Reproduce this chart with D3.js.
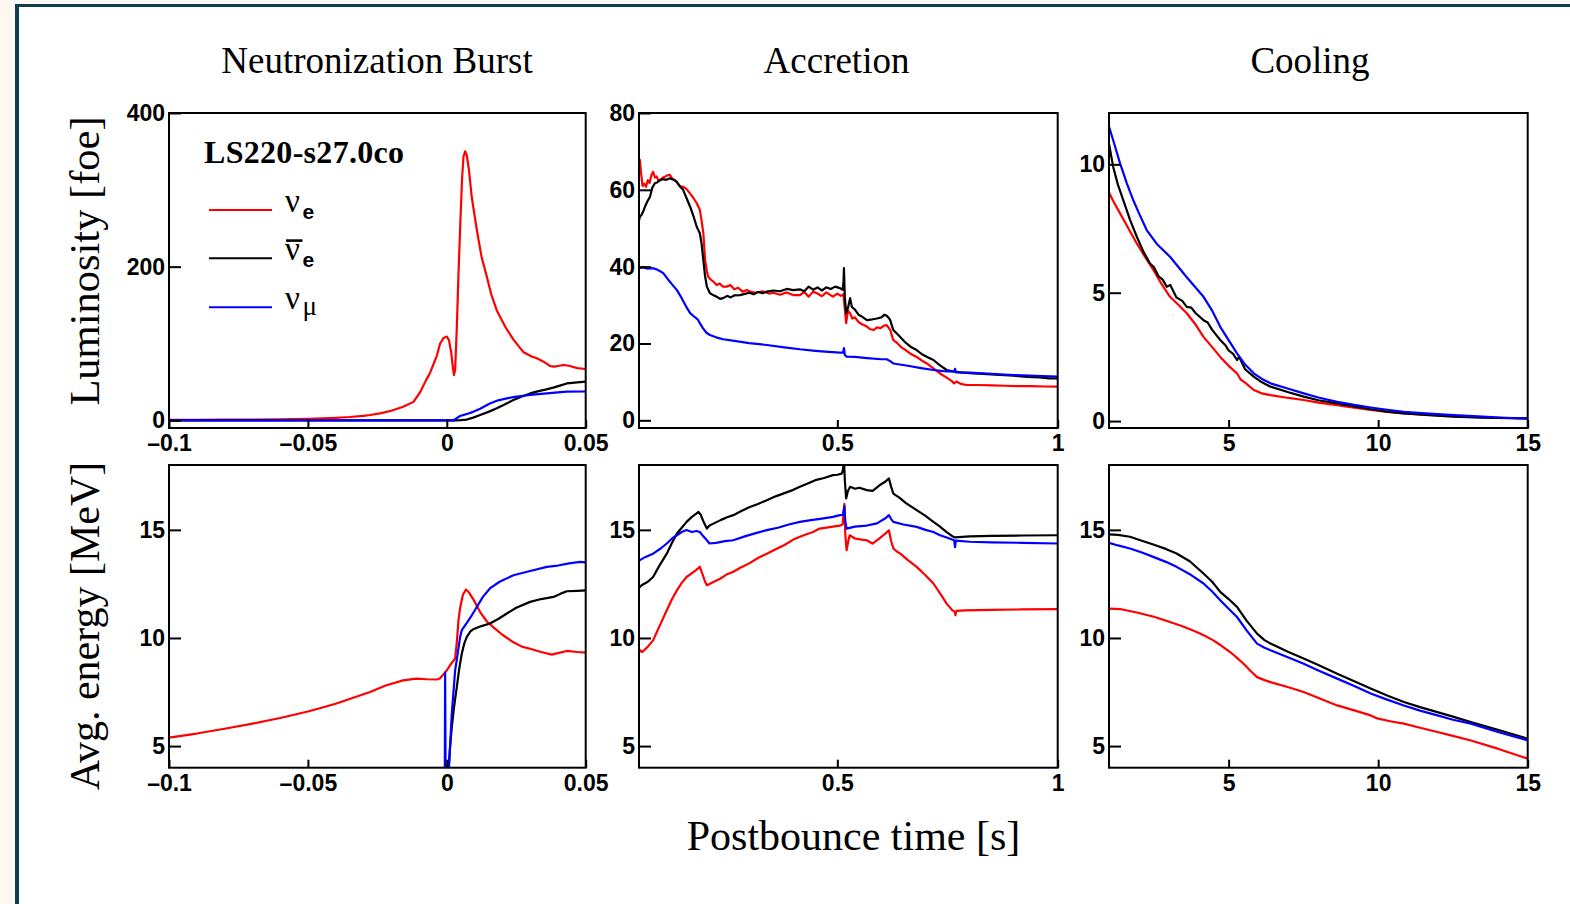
<!DOCTYPE html>
<html>
<head>
<meta charset="utf-8">
<script src="https://cdn.jsdelivr.net/npm/d3@7"></script>
<style>
body { margin: 0; background: #fdf9f2; }
svg { display: block; }
</style>
</head>
<body>
<div class="chart"></div>
<script>
// phase titles and tick values / labels
var phases = ["Neutronization Burst", "Accretion", "Cooling"];
var xTicksBurst = [-0.1, -0.05, 0, 0.05];
var xLabelsBurst = ["\u20130.1", "\u20130.05", "0", "0.05"];
var xTicksAccr = [0.5, 1];
var xLabelsAccr = ["0.5", "1"];
var xTicksCool = [5, 10, 15];
var xLabelsCool = ["5", "10", "15"];
var yTicksLumBurst = [0, 200, 400];
var yTicksLumAccr = [0, 20, 40, 60, 80];
var yTicksLumCool = [0, 5, 10];
var yTicksEnergy = [5, 10, 15];

// luminosity [foe] vs time [s]
var lumBurstNuE = [[-0.1,0.5],[-0.09,0.6],[-0.08,0.8],[-0.07,1.0],[-0.06,1.4],[-0.05,2.0],[-0.045,2.6],[-0.04,3.3],[-0.035,4.3],[-0.03,5.8],[-0.0276,6.9],[-0.024,9],[-0.02,12.5],[-0.0157,17.7],[-0.012,24],[-0.0097,36],[-0.0075,52],[-0.006,62],[-0.0049,72],[-0.0036,84],[-0.0024,100],[-0.0012,107],[0,109],[0.0008,104],[0.0016,88],[0.0022,68],[0.0026,59],[0.003,66],[0.0036,120],[0.0042,190],[0.0048,250],[0.0055,315],[0.006,343],[0.0066,350],[0.0072,345],[0.008,325],[0.009,290],[0.0108,248],[0.0125,213],[0.0144,187],[0.016,164],[0.018,143],[0.021,122],[0.024,105],[0.0275,89],[0.0305,83],[0.0324,80.7],[0.035,76],[0.0372,70.5],[0.039,70],[0.042,72],[0.044,71],[0.047,68],[0.05,66.8]];
var lumBurstAntiNuE = [[-0.1,0],[0.003,0],[0.005,0.2],[0.0072,1],[0.0095,3.5],[0.012,7],[0.015,11],[0.018,15.6],[0.021,21],[0.024,26.4],[0.027,31],[0.03,35],[0.033,38],[0.0355,40],[0.0383,42.5],[0.041,45.5],[0.0432,48],[0.046,49],[0.05,50.3]];
var lumBurstNuMu = [[-0.1,0],[0.0025,0],[0.003,1.5],[0.0048,5.6],[0.007,8],[0.0095,11],[0.012,15],[0.0155,22],[0.0185,26],[0.0216,28.6],[0.0245,30.5],[0.0275,32],[0.031,33.5],[0.036,35],[0.04,36.3],[0.0432,37.3],[0.05,37.5]];

var lumAccrNuE = [[0.05,66],[0.052,67.8],[0.055,64],[0.058,61],[0.062,61.6],[0.066,60.8],[0.07,62.5],[0.074,61.8],[0.078,63.8],[0.082,64.7],[0.086,63.2],[0.09,63.5],[0.094,62.4],[0.098,62.6],[0.104,63.2],[0.11,63.5],[0.115,63.8],[0.12,63.9],[0.125,63.0],[0.13,62.6],[0.135,62.2],[0.14,61.3],[0.145,60.9],[0.15,60.8],[0.158,60.2],[0.166,59],[0.174,57.8],[0.181,56.5],[0.188,54.8],[0.192,52],[0.196,48.7],[0.2,41.7],[0.204,38.8],[0.207,37.4],[0.213,36.6],[0.219,36.1],[0.226,35.2],[0.233,35.6],[0.241,34.8],[0.249,34.8],[0.258,35.2],[0.266,34.1],[0.275,34.5],[0.285,33.5],[0.295,33.9],[0.302,33.5],[0.315,33.2],[0.33,33.6],[0.345,33.0],[0.355,33.2],[0.37,32.7],[0.385,33.3],[0.4,32.6],[0.415,32.6],[0.425,33.4],[0.435,32.2],[0.445,33.5],[0.455,33.0],[0.465,32.3],[0.475,33.3],[0.49,32.2],[0.5,33.0],[0.508,32.4],[0.514,32.8],[0.517,29],[0.52,25.3],[0.524,28.5],[0.529,27.9],[0.534,26.5],[0.54,26.8],[0.548,25.6],[0.556,25.0],[0.567,24.4],[0.575,23.7],[0.582,23.5],[0.59,24.2],[0.598,24.0],[0.605,24.6],[0.612,24.8],[0.617,24.0],[0.62,23.5],[0.624,22.0],[0.627,20.9],[0.635,20.2],[0.645,19.0],[0.655,18.3],[0.665,17.4],[0.68,16.5],[0.69,15.7],[0.703,14.8],[0.718,13.5],[0.733,12.2],[0.748,11.1],[0.76,10.2],[0.765,9.6],[0.77,10.1],[0.78,9.5],[0.793,9.2],[0.82,9.2],[0.85,9.1],[0.88,9.0],[0.91,8.9],[0.94,8.9],[0.97,8.8],[1.0,8.75]];
var lumAccrAntiNuE = [[0.05,52],[0.052,53],[0.056,53.5],[0.06,54.5],[0.065,56],[0.07,57.2],[0.075,58.2],[0.08,60.5],[0.086,61.7],[0.092,62.0],[0.098,62.5],[0.105,62.8],[0.112,62.6],[0.12,63],[0.126,62.7],[0.13,62.6],[0.136,62.0],[0.142,61.0],[0.15,60],[0.158,57.8],[0.166,55.6],[0.174,53],[0.181,50.4],[0.188,48.7],[0.192,46],[0.196,41.7],[0.2,37.5],[0.204,34.8],[0.211,33.1],[0.218,32.6],[0.226,32.2],[0.234,31.6],[0.241,31.8],[0.25,32.4],[0.258,32.0],[0.266,32.5],[0.279,32.6],[0.29,32.9],[0.3,33.2],[0.31,32.8],[0.32,33.4],[0.33,33.1],[0.34,33.5],[0.355,33.8],[0.37,33.6],[0.385,34.2],[0.4,33.9],[0.415,34.1],[0.425,33.6],[0.435,34.8],[0.445,34.0],[0.455,34.6],[0.465,33.8],[0.475,34.6],[0.485,34.2],[0.495,34.8],[0.506,34.4],[0.512,34.0],[0.514,36],[0.515,39.6],[0.517,32],[0.52,27.9],[0.524,29.2],[0.529,31.8],[0.533,29.5],[0.54,28.8],[0.548,27.5],[0.556,27.0],[0.567,26.1],[0.58,26.3],[0.59,26.5],[0.6,26.8],[0.607,27.5],[0.612,27.2],[0.617,26.6],[0.62,26.1],[0.624,24.6],[0.627,23.5],[0.64,22.0],[0.655,20.2],[0.668,19.0],[0.68,18.3],[0.692,17.2],[0.705,16.4],[0.718,15.7],[0.733,14.3],[0.748,13.1],[0.765,12.7],[0.78,12.5],[0.8,12.3],[0.83,12.1],[0.869,11.8],[0.9,11.6],[0.93,11.3],[0.96,11.2],[0.98,10.9],[1.0,10.9]];
var lumAccrNuMu = [[0.05,39.6],[0.06,39.8],[0.07,39.5],[0.082,39.6],[0.09,39.3],[0.098,38.8],[0.105,38.3],[0.115,36.8],[0.125,35.4],[0.136,33.9],[0.146,32.0],[0.156,29.8],[0.166,27.9],[0.176,26.9],[0.183,26.3],[0.188,25.3],[0.195,24.0],[0.203,22.8],[0.211,22.2],[0.225,21.6],[0.241,21.1],[0.27,20.6],[0.3,20.1],[0.34,19.6],[0.38,19.0],[0.415,18.5],[0.45,18.1],[0.48,17.8],[0.506,17.6],[0.513,17.6],[0.515,18.8],[0.517,17.0],[0.521,16.6],[0.54,16.5],[0.567,16.2],[0.6,15.9],[0.612,15.9],[0.62,15.4],[0.627,14.8],[0.66,14.2],[0.69,13.6],[0.718,13.1],[0.74,12.8],[0.765,12.7],[0.767,13.4],[0.769,12.5],[0.8,12.4],[0.85,12.1],[0.9,11.8],[0.95,11.6],[1.0,11.4]];

var lumCoolNuE = [[1,8.9],[1.15,8.55],[1.37,8.09],[1.65,7.5],[1.93,6.92],[2.2,6.4],[2.49,5.88],[2.75,5.35],[3.04,4.84],[3.3,4.55],[3.6,4.2],[3.9,3.75],[4.16,3.28],[4.45,2.88],[4.72,2.5],[5.0,2.15],[5.28,1.86],[5.4,1.62],[5.55,1.5],[5.84,1.21],[6.1,1.08],[6.4,1.01],[7.0,0.9],[7.51,0.82],[8.0,0.72],[8.63,0.62],[9.2,0.52],[9.75,0.43],[10.3,0.36],[10.86,0.3],[11.7,0.24],[12.5,0.19],[13.5,0.14],[15,0.1]];
var lumCoolAntiNuE = [[1,10.8],[1.14,9.9],[1.3,9.2],[1.48,8.6],[1.7,7.85],[1.93,7.18],[2.15,6.6],[2.37,6.14],[2.5,6.0],[2.65,5.65],[2.8,5.5],[2.93,5.23],[3.05,5.3],[3.25,4.82],[3.45,4.68],[3.6,4.45],[3.75,4.42],[3.9,4.2],[4.16,3.93],[4.3,3.84],[4.45,3.55],[4.72,3.16],[4.9,2.94],[5.0,2.75],[5.15,2.62],[5.28,2.38],[5.35,2.5],[5.55,2.02],[5.84,1.73],[6.1,1.52],[6.4,1.34],[7.0,1.12],[7.51,0.95],[8.0,0.81],[8.63,0.69],[9.2,0.57],[9.75,0.46],[10.3,0.37],[10.86,0.3],[11.7,0.23],[12.5,0.17],[13.5,0.13],[15,0.1]];
var lumCoolNuMu = [[1,11.47],[1.15,10.9],[1.37,10.04],[1.6,9.25],[1.81,8.61],[2.0,8.1],[2.26,7.44],[2.6,6.9],[3.04,6.4],[3.6,5.6],[4.16,4.84],[4.45,4.3],[4.72,3.67],[5.0,3.15],[5.28,2.64],[5.55,2.2],[5.84,1.86],[6.1,1.65],[6.4,1.47],[7.0,1.26],[7.51,1.08],[8.0,0.92],[8.63,0.75],[9.2,0.63],[9.75,0.53],[10.3,0.44],[10.86,0.36],[11.7,0.29],[12.54,0.23],[13.5,0.17],[14.2,0.13],[15,0.1]];

// average energy [MeV] vs time [s]
var eBurstNuE = [[-0.1,5.39],[-0.09,5.58],[-0.08,5.8],[-0.0699,6.04],[-0.06,6.3],[-0.05,6.6],[-0.0457,6.75],[-0.04,6.96],[-0.035,7.18],[-0.0276,7.5],[-0.022,7.8],[-0.0157,8.04],[-0.011,8.12],[-0.0072,8.09],[-0.0035,8.08],[-0.0024,8.14],[-0.001,8.35],[0,8.5],[0.0015,8.8],[0.003,9.05],[0.0036,9.8],[0.0042,10.8],[0.0048,11.4],[0.0058,12.0],[0.0069,12.24],[0.008,12.1],[0.0095,11.8],[0.012,11.2],[0.0145,10.75],[0.0167,10.5],[0.02,10.15],[0.024,9.8],[0.027,9.6],[0.03,9.5],[0.034,9.35],[0.0378,9.23],[0.04,9.3],[0.0432,9.4],[0.047,9.35],[0.05,9.32]];
var eBurstAntiNuE = [[-0.1,0],[0.0004,0],[0.0006,3.9],[0.0012,5.0],[0.0018,5.88],[0.0027,6.9],[0.0036,7.73],[0.0045,8.6],[0.0054,9.28],[0.0063,9.75],[0.0072,10.05],[0.0085,10.3],[0.0095,10.4],[0.0125,10.55],[0.0155,10.67],[0.0185,10.88],[0.0216,11.13],[0.025,11.4],[0.03,11.67],[0.034,11.8],[0.0384,11.9],[0.041,12.05],[0.0432,12.16],[0.047,12.18],[0.05,12.2]];
var eBurstNuMu = [[-0.1,0],[-0.0008,0],[-0.0006,8.4],[-0.0003,0],[0.0005,0],[0.0008,4.03],[0.0018,6.5],[0.003,8.5],[0.0036,9.0],[0.0048,10.05],[0.0054,10.36],[0.0072,10.7],[0.009,11.05],[0.0108,11.43],[0.013,11.9],[0.0155,12.29],[0.019,12.6],[0.024,12.9],[0.03,13.1],[0.036,13.29],[0.04,13.35],[0.044,13.45],[0.048,13.52],[0.05,13.5]];

var eAccrNuE = [[0.05,9.5],[0.052,9.43],[0.056,9.35],[0.06,9.4],[0.07,9.6],[0.082,9.89],[0.09,10.25],[0.1,10.7],[0.113,11.28],[0.125,11.8],[0.136,12.2],[0.147,12.55],[0.158,12.82],[0.17,13.0],[0.18,13.15],[0.188,13.29],[0.195,12.9],[0.2,12.6],[0.204,12.44],[0.21,12.5],[0.22,12.6],[0.235,12.75],[0.25,12.95],[0.264,13.06],[0.28,13.25],[0.3,13.45],[0.32,13.7],[0.34,13.9],[0.36,14.1],[0.38,14.3],[0.4,14.55],[0.415,14.68],[0.43,14.8],[0.445,14.9],[0.46,15.06],[0.475,15.1],[0.49,15.15],[0.506,15.2],[0.512,15.25],[0.516,16.2],[0.518,14.8],[0.521,14.06],[0.525,14.5],[0.528,14.75],[0.54,14.6],[0.555,14.55],[0.567,14.52],[0.58,14.36],[0.595,14.6],[0.61,14.85],[0.617,14.98],[0.622,14.5],[0.627,14.14],[0.635,14.0],[0.643,13.9],[0.66,13.6],[0.68,13.29],[0.7,12.9],[0.718,12.52],[0.735,12.0],[0.748,11.59],[0.76,11.3],[0.767,11.2],[0.768,11.05],[0.77,11.25],[0.79,11.28],[0.85,11.3],[0.92,11.32],[1.0,11.33]];
var eAccrAntiNuE = [[0.05,12.3],[0.052,12.36],[0.056,12.44],[0.07,12.6],[0.082,12.82],[0.095,13.3],[0.113,13.9],[0.125,14.4],[0.136,14.83],[0.147,15.1],[0.158,15.37],[0.17,15.6],[0.18,15.75],[0.185,15.83],[0.19,15.7],[0.197,15.35],[0.204,15.06],[0.21,15.2],[0.22,15.3],[0.235,15.45],[0.25,15.58],[0.264,15.68],[0.28,15.85],[0.3,16.05],[0.32,16.2],[0.34,16.37],[0.36,16.55],[0.38,16.7],[0.4,16.85],[0.415,16.99],[0.43,17.12],[0.45,17.3],[0.47,17.4],[0.49,17.53],[0.5,17.55],[0.51,17.6],[0.513,17.8],[0.515,18.3],[0.517,17.3],[0.52,16.45],[0.524,16.8],[0.529,16.99],[0.54,16.9],[0.55,16.95],[0.567,16.84],[0.58,16.8],[0.595,17.05],[0.61,17.25],[0.617,17.38],[0.622,17.0],[0.627,16.68],[0.64,16.5],[0.655,16.25],[0.68,15.91],[0.7,15.65],[0.718,15.37],[0.733,15.15],[0.748,14.9],[0.76,14.72],[0.767,14.65],[0.8,14.7],[0.85,14.72],[0.92,14.74],[1.0,14.75]];
var eAccrNuMu = [[0.05,13.55],[0.052,13.6],[0.065,13.75],[0.082,13.9],[0.1,14.15],[0.113,14.37],[0.125,14.6],[0.136,14.75],[0.147,14.9],[0.158,14.99],[0.17,14.9],[0.18,14.95],[0.188,14.9],[0.196,14.7],[0.204,14.52],[0.21,14.37],[0.225,14.4],[0.245,14.48],[0.264,14.52],[0.29,14.7],[0.315,14.85],[0.34,14.99],[0.365,15.1],[0.39,15.25],[0.415,15.37],[0.44,15.45],[0.465,15.52],[0.49,15.6],[0.506,15.68],[0.513,15.7],[0.516,16.1],[0.518,15.4],[0.521,15.06],[0.54,15.15],[0.567,15.2],[0.59,15.3],[0.61,15.55],[0.617,15.68],[0.622,15.5],[0.627,15.37],[0.65,15.25],[0.68,15.14],[0.7,15.0],[0.718,14.9],[0.733,14.75],[0.748,14.65],[0.765,14.52],[0.767,14.2],[0.769,14.5],[0.8,14.45],[0.85,14.42],[0.92,14.4],[1.0,14.37]];

var eCoolNuE = [[1,11.36],[1.4,11.33],[1.93,11.18],[2.5,10.98],[3.04,10.74],[3.5,10.52],[3.93,10.28],[4.2,10.1],[4.49,9.89],[4.75,9.65],[5.05,9.35],[5.28,9.08],[5.5,8.81],[5.75,8.45],[5.95,8.19],[6.2,8.05],[6.4,7.96],[7.0,7.72],[7.51,7.5],[8.07,7.19],[8.63,6.88],[9.2,6.65],[9.75,6.42],[9.97,6.28],[10.4,6.15],[10.86,6.04],[11.4,5.85],[11.98,5.65],[12.5,5.47],[13.1,5.26],[14.0,4.88],[15,4.42]];
var eCoolAntiNuE = [[1,14.79],[1.3,14.77],[1.7,14.68],[2.1,14.5],[2.48,14.32],[2.9,14.12],[3.26,13.91],[3.7,13.55],[4.16,12.98],[4.45,12.6],[4.72,12.13],[5.0,11.8],[5.28,11.44],[5.6,10.8],[5.95,10.2],[6.2,9.9],[6.4,9.74],[7.0,9.35],[7.51,9.05],[8.0,8.75],[8.63,8.35],[9.2,8.0],[9.75,7.66],[10.3,7.34],[10.86,7.04],[11.4,6.8],[11.98,6.57],[12.5,6.36],[13.1,6.11],[14.0,5.75],[15,5.34]];
var eCoolNuMu = [[1,14.4],[1.3,14.28],[1.7,14.14],[2.1,13.95],[2.48,13.75],[2.9,13.52],[3.26,13.29],[3.7,12.95],[4.16,12.52],[4.45,12.15],[4.72,11.75],[5.0,11.35],[5.28,10.97],[5.6,10.35],[5.95,9.74],[6.2,9.55],[6.4,9.43],[7.0,9.1],[7.51,8.81],[8.0,8.5],[8.63,8.12],[9.2,7.78],[9.75,7.43],[10.3,7.15],[10.86,6.88],[11.4,6.64],[11.98,6.42],[12.5,6.22],[13.1,6.04],[14.0,5.65],[15,5.26]];

var width = 1570;
var height = 904;
var colors = ["#ff0000", "#000000", "#0000ff"];
var colX = [[169, 585.7], [639, 1057.7], [1109, 1527.7]];
var rowY = [[113, 428], [465, 767.7]];
var tickFont = "'Liberation Sans', Arial, sans-serif";
var serif = "'Liberation Serif', 'Times New Roman', serif";

function build_svg(c) {
    var s = c.append("svg").attr("width", width).attr("height", height);
    s.append("rect").attr("width", width).attr("height", height).attr("fill", "#fdf9f2");
    s.append("rect").attr("x", 15).attr("y", 4).attr("width", width - 15).attr("height", height - 4).attr("fill", "#0e3f4f");
    s.append("rect").attr("x", 19).attr("y", 7).attr("width", width - 19).attr("height", height - 7).attr("fill", "#ffffff");
    return s;
}

function build_panel(s, id, col, row, xDom, yDom, xTicks, xLabels, yTicks, series) {
    var x = d3.scaleLinear().domain(xDom).range(colX[col]);
    var y = d3.scaleLinear().domain(yDom).range([rowY[row][1], rowY[row][0]]);
    var x0 = colX[col][0], x1 = colX[col][1], y0 = rowY[row][0], y1 = rowY[row][1];

    s.append("clipPath").attr("id", id)
        .append("rect").attr("x", x0).attr("y", y0).attr("width", x1 - x0).attr("height", y1 - y0);

    var line = d3.line().x(function(d) { return x(d[0]); }).y(function(d) { return y(d[1]); });
    s.append("g").attr("clip-path", "url(#" + id + ")")
        .selectAll("path").data(series).enter().append("path")
        .attr("d", line)
        .attr("fill", "none")
        .attr("stroke", function(d, i) { return colors[i]; })
        .attr("stroke-width", 2.2)
        .attr("stroke-linejoin", "round");

    var yAxis = d3.axisLeft(y).tickValues(yTicks).tickSize(-12).tickPadding(4).tickFormat(d3.format("d"));
    var gy = s.append("g").attr("transform", "translate(" + x0 + ",0)").call(yAxis);
    var xAxis = d3.axisBottom(x).tickValues(xTicks).tickSize(-8).tickPadding(7)
        .tickFormat(function(d, i) { return xLabels[i]; });
    var gx = s.append("g").attr("transform", "translate(0," + y1 + ")").call(xAxis);
    [gx, gy].forEach(function(g) {
        g.select(".domain").remove();
        g.attr("font-family", tickFont).attr("font-size", 23).attr("font-weight", "bold");
        g.selectAll("line").attr("stroke-width", 2);
        g.selectAll("text").attr("fill", "#000");
    });

    s.append("rect").attr("x", x0).attr("y", y0).attr("width", x1 - x0).attr("height", y1 - y0)
        .attr("fill", "none").attr("stroke", "#000").attr("stroke-width", 2);
}

function build_texts(s) {
    var cx = [377, 836.5, 1310];
    s.selectAll(".phase").data(phases).enter().append("text")
        .attr("class", "phase")
        .attr("x", function(d, i) { return cx[i]; })
        .attr("y", 73)
        .attr("text-anchor", "middle")
        .attr("font-family", serif).attr("font-size", 37)
        .text(function(d) { return d; });

    s.append("text").attr("x", 853.5).attr("y", 850).attr("text-anchor", "middle")
        .attr("font-family", serif).attr("font-size", 42).text("Postbounce time [s]");
    s.append("text").attr("transform", "translate(99,261) rotate(-90)").attr("text-anchor", "middle")
        .attr("font-family", serif).attr("font-size", 42.5).text("Luminosity [foe]");
    s.append("text").attr("transform", "translate(99,626) rotate(-90)").attr("text-anchor", "middle")
        .attr("font-family", serif).attr("font-size", 42).text("Avg. energy [MeV]");
}

function build_legend(s) {
    s.append("text").attr("x", 204).attr("y", 163)
        .attr("font-family", serif).attr("font-size", 32).attr("font-weight", "bold")
        .attr("letter-spacing", 0.3)
        .text("LS220-s27.0co");
    var ys = [210, 258.3, 307.3];
    var subs = ["e", "e", "\u03bc"];
    ys.forEach(function(yy, i) {
        s.append("line").attr("x1", 209).attr("x2", 272).attr("y1", yy).attr("y2", yy)
            .attr("stroke", colors[i]).attr("stroke-width", 2);
        s.append("text").attr("x", 285).attr("y", yy + 2)
            .attr("font-family", serif).attr("font-size", 33).text("\u03bd");
        var sub = s.append("text").attr("x", 302.5).text(subs[i]);
        if (i < 2) {
            sub.attr("y", yy + 9).attr("font-family", tickFont).attr("font-size", 21).attr("font-weight", "bold");
        } else {
            sub.attr("y", yy + 8).attr("font-family", serif).attr("font-size", 27);
        }
    });
    s.append("rect").attr("x", 286).attr("y", 239.3).attr("width", 16.5).attr("height", 2.6).attr("fill", "#000");
}

function main() {
    var svg = build_svg(d3.select(".chart"));
    build_panel(svg, "c0", 0, 0, [-0.1, 0.05], [-10, 400], xTicksBurst, xLabelsBurst, yTicksLumBurst,
        [lumBurstNuE, lumBurstAntiNuE, lumBurstNuMu]);
    build_panel(svg, "c1", 1, 0, [0.05, 1], [-2, 80], xTicksAccr, xLabelsAccr, yTicksLumAccr,
        [lumAccrNuE, lumAccrAntiNuE, lumAccrNuMu]);
    build_panel(svg, "c2", 2, 0, [1, 15], [-0.27, 12], xTicksCool, xLabelsCool, yTicksLumCool,
        [lumCoolNuE, lumCoolAntiNuE, lumCoolNuMu]);
    build_panel(svg, "c3", 0, 1, [-0.1, 0.05], [4, 18], xTicksBurst, xLabelsBurst, yTicksEnergy,
        [eBurstNuE, eBurstAntiNuE, eBurstNuMu]);
    build_panel(svg, "c4", 1, 1, [0.05, 1], [4, 18], xTicksAccr, xLabelsAccr, yTicksEnergy,
        [eAccrNuE, eAccrAntiNuE, eAccrNuMu]);
    build_panel(svg, "c5", 2, 1, [1, 15], [4, 18], xTicksCool, xLabelsCool, yTicksEnergy,
        [eCoolNuE, eCoolAntiNuE, eCoolNuMu]);
    build_texts(svg);
    build_legend(svg);
}

main();
</script>
</body>
</html>
